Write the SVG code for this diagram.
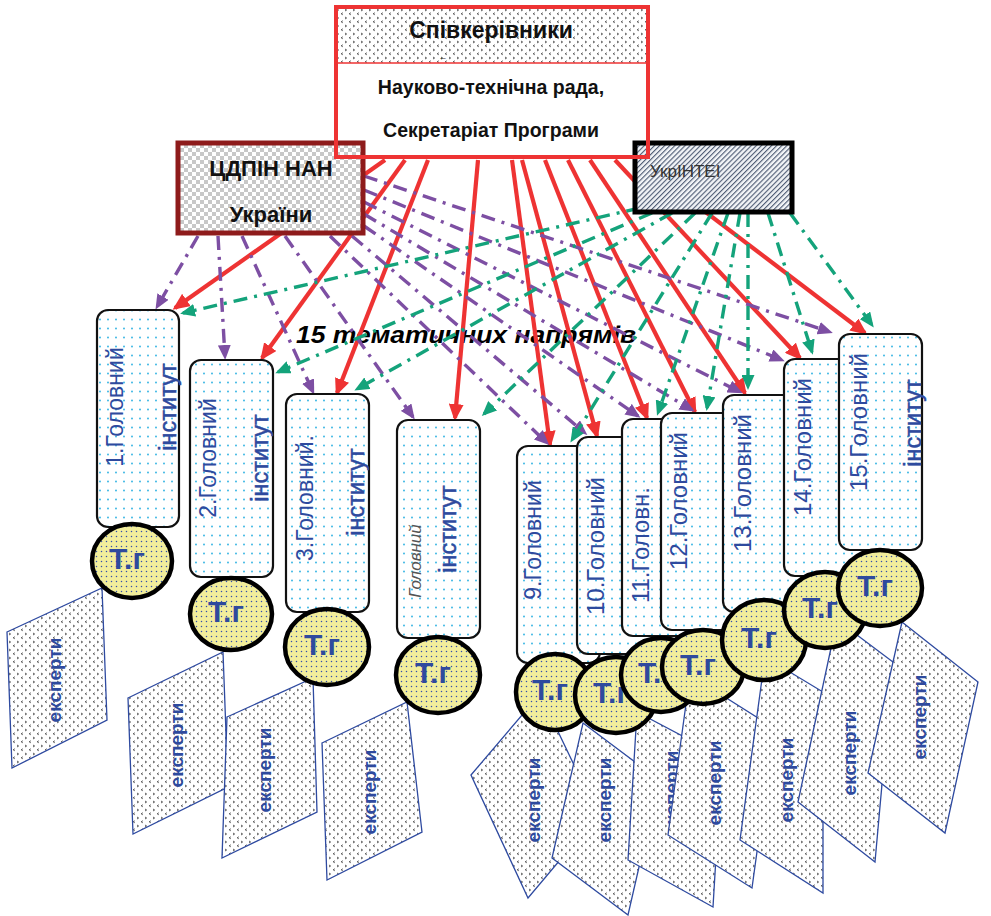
<svg xmlns="http://www.w3.org/2000/svg" width="991" height="916" viewBox="0 0 991 916">
<defs>
<pattern id="pDotC" width="8" height="9" patternUnits="userSpaceOnUse"><rect width="8" height="9" fill="#fff"/><circle cx="4" cy="4.5" r="0.9" fill="#2AB0E2"/></pattern>
<pattern id="pYel" width="5" height="5" patternUnits="userSpaceOnUse"><rect width="5" height="5" fill="#F2EE9C"/><circle cx="1.5" cy="1.5" r="0.75" fill="#3650A8"/></pattern>
<pattern id="pExp" width="8" height="8" patternUnits="userSpaceOnUse"><rect width="8" height="8" fill="#fff"/><path d="M1,1 L2.6,2 L1,3" fill="none" stroke="#111" stroke-width="0.7"/><path d="M6.8,4.8 L5.2,5.8 L6.8,6.8" fill="none" stroke="#111" stroke-width="0.7"/></pattern>
<pattern id="pChk" width="8" height="8" patternUnits="userSpaceOnUse"><rect width="8" height="8" fill="#fff"/><rect width="4" height="4" fill="#C8C8C8"/><rect x="4" y="4" width="4" height="4" fill="#C8C8C8"/></pattern>
<pattern id="pHatch" width="3.6" height="3.6" patternUnits="userSpaceOnUse" patternTransform="rotate(45)"><rect width="3.6" height="3.6" fill="#F2F4F7"/><line x1="0.6" y1="0" x2="0.6" y2="3.6" stroke="#3A4864" stroke-width="1"/></pattern>
<marker id="aR" markerUnits="userSpaceOnUse" markerWidth="17" markerHeight="15" refX="14" refY="7.5" orient="auto"><path d="M0,0 L17,7.5 L0,15 z" fill="#EE3333"/></marker>
<marker id="aP" markerUnits="userSpaceOnUse" markerWidth="15" markerHeight="13" refX="12" refY="6.5" orient="auto"><path d="M0,0 L15,6.5 L0,13 z" fill="#7D4FA3"/></marker>
<marker id="aG" markerUnits="userSpaceOnUse" markerWidth="15" markerHeight="13" refX="12" refY="6.5" orient="auto"><path d="M0,0 L15,6.5 L0,13 z" fill="#14A37B"/></marker>
<style>
.inst{fill:url(#pDotC);stroke:#111;stroke-width:2.2}
.it{font-family:"Liberation Sans",Arial,sans-serif;fill:#2E4A9E;text-anchor:middle}
.itb{font-family:"Liberation Sans",Arial,sans-serif;fill:#2E4A9E;stroke:#2E4A9E;stroke-width:0.5;font-size:23.5px;text-anchor:middle}
.tg{fill:url(#pYel);stroke:#000;stroke-width:4.5}
.tgt{font-family:"Liberation Sans",Arial,sans-serif;font-weight:bold;font-size:30px;fill:#2E4A9E;text-anchor:middle}
.exp{fill:url(#pExp);stroke:#2E4AA0;stroke-width:1.3}
.ext{font-family:"Liberation Sans",Arial,sans-serif;font-weight:bold;font-size:19px;fill:#2E4A9E;text-anchor:middle}
.red{stroke:#EE3333;stroke-width:4.2;fill:none;marker-end:url(#aR)}
.pur{stroke:#7D4FA3;stroke-width:3.4;fill:none;stroke-dasharray:14 7 3 7;marker-end:url(#aP)}
.grn{stroke:#14A37B;stroke-width:3.4;fill:none;stroke-dasharray:14 7 3 7;marker-end:url(#aG)}
.hd{font-family:"Liberation Sans",Arial,sans-serif;font-weight:bold;fill:#111;text-anchor:middle}
</style>
</defs>
<rect width="991" height="916" fill="#fff"/>

<text x="296" y="343" font-family="Liberation Sans, Arial, sans-serif" font-size="23" font-weight="bold" font-style="italic" fill="#000" textLength="340" lengthAdjust="spacingAndGlyphs">15 тематичних напрямів</text>

<g id="connectors">
<line class="red" x1="385" y1="160" x2="175" y2="308"/>
<line class="red" x1="405" y1="160" x2="262" y2="358"/>
<line class="red" x1="428" y1="160" x2="337" y2="393"/>
<line class="red" x1="478" y1="160" x2="455" y2="418"/>
<line class="red" x1="512" y1="160" x2="550" y2="445"/>
<line class="red" x1="522" y1="160" x2="597" y2="436"/>
<line class="red" x1="545" y1="160" x2="647" y2="418"/>
<line class="red" x1="568" y1="160" x2="695" y2="412"/>
<line class="red" x1="590" y1="160" x2="745" y2="393"/>
<line class="red" x1="615" y1="160" x2="800" y2="358"/>
<line class="red" x1="637" y1="160" x2="865" y2="333"/>
<line class="pur" x1="198" y1="236" x2="157" y2="307"/>
<line class="pur" x1="218" y1="236" x2="225" y2="357"/>
<line class="pur" x1="242" y1="236" x2="313" y2="392"/>
<line class="pur" x1="285" y1="236" x2="413" y2="417"/>
<line class="pur" x1="330" y1="236" x2="547" y2="443"/>
<line class="pur" x1="352" y1="236" x2="585" y2="433"/>
<line class="pur" x1="364" y1="226" x2="638" y2="416"/>
<line class="pur" x1="364" y1="214" x2="692" y2="410"/>
<line class="pur" x1="364" y1="202" x2="740" y2="392"/>
<line class="pur" x1="364" y1="190" x2="782" y2="360"/>
<line class="pur" x1="364" y1="176" x2="830" y2="332"/>
<line class="grn" x1="640" y1="208" x2="183" y2="313"/>
<line class="grn" x1="652" y1="213" x2="278" y2="372"/>
<line class="grn" x1="672" y1="213" x2="357" y2="389"/>
<line class="grn" x1="695" y1="213" x2="484" y2="414"/>
<line class="grn" x1="712" y1="213" x2="572" y2="440"/>
<line class="grn" x1="728" y1="213" x2="658" y2="413"/>
<line class="grn" x1="740" y1="213" x2="707" y2="408"/>
<line class="grn" x1="748" y1="213" x2="748" y2="387"/>
<line class="grn" x1="768" y1="213" x2="812" y2="352"/>
<line class="grn" x1="790" y1="213" x2="872" y2="325"/>
</g>

<g id="node-cdpin">
<rect x="178" y="143" width="185" height="90" fill="url(#pChk)" stroke="#8E1B1B" stroke-width="5"/>
<text class="hd" x="271" y="176" font-size="22">ЦДПІН НАН</text>
<text class="hd" x="271" y="222" font-size="22">України</text>
</g>

<g id="node-ukrintei">
<rect x="635" y="143" width="157" height="69" fill="url(#pHatch)" stroke="#000" stroke-width="5"/>
<text x="650" y="177" font-family="Liberation Sans, Arial, sans-serif" font-size="17" fill="#333">УкрІНТЕІ</text>
</g>

<g id="node-top">
<rect x="338" y="9" width="308" height="54" fill="url(#pExp)"/>
<line x1="336" y1="63" x2="648" y2="63" stroke="#EE3333" stroke-width="1.5"/>
<rect x="336" y="7" width="312" height="150" fill="none" stroke="#EE3333" stroke-width="4"/>
<text class="hd" x="491" y="38" font-size="23">Співкерівники</text>
<text x="443" y="60" font-family="Liberation Sans, Arial, sans-serif" font-size="9" fill="#333" text-anchor="middle">←</text>
<text class="hd" x="491" y="94" font-size="19.5">Науково-технічна рада,</text>
<text class="hd" x="491" y="137" font-size="19.5">Секретаріат Програми</text>
</g>

<g id="node-inst1"><rect class="inst" x="97" y="310" width="82" height="217" rx="11"/>
<text class="it" font-size="23" transform="translate(123,407) rotate(-90)">1.Головний</text>
<text class="itb" transform="translate(176,407) rotate(-90)">інститут</text></g>
<g id="node-inst2"><rect class="inst" x="190" y="360" width="83" height="217" rx="11"/>
<text class="it" font-size="23" transform="translate(216,458) rotate(-90)">2.Головний</text>
<text class="itb" transform="translate(268,458) rotate(-90)">інститут</text></g>
<g id="node-inst3"><rect class="inst" x="286" y="394" width="83" height="218" rx="11"/>
<text class="it" font-size="23" transform="translate(313,498) rotate(-90)">3.Головний.</text>
<text class="itb" transform="translate(364,492) rotate(-90)">інститут</text></g>
<g id="node-inst4"><rect class="inst" x="397" y="420" width="83" height="218" rx="11"/>
<text font-family="Liberation Sans, Arial, sans-serif" font-size="17" font-style="italic" fill="#555" text-anchor="middle" transform="translate(421,561) rotate(-90)">Головний</text>
<text class="itb" transform="translate(456,529) rotate(-90)">інститут</text></g>
<g id="node-inst9"><rect class="inst" x="517" y="446" width="83" height="217" rx="11"/>
<text class="it" font-size="23" transform="translate(541,540) rotate(-90)">9.Головний</text></g>
<g id="node-inst10"><rect class="inst" x="577" y="437" width="83" height="217" rx="11"/>
<text class="it" font-size="24" transform="translate(604,546) rotate(-90)">10.Головний</text></g>
<g id="node-inst11"><rect class="inst" x="622" y="419" width="83" height="217" rx="11"/>
<text class="it" font-size="24" transform="translate(649,545) rotate(-90)">11.Головн.</text></g>
<g id="node-inst12"><rect class="inst" x="661" y="413" width="83" height="217" rx="11"/>
<text class="it" font-size="24" transform="translate(687,501) rotate(-90)">12.Головний</text></g>
<g id="node-inst13"><rect class="inst" x="723" y="395" width="83" height="217" rx="11"/>
<text class="it" font-size="24" transform="translate(751,483) rotate(-90)">13.Головний</text></g>
<g id="node-inst14"><rect class="inst" x="784" y="359" width="83" height="217" rx="11"/>
<text class="it" font-size="24" transform="translate(811,447) rotate(-90)">14.Головний</text></g>
<g id="node-inst15"><rect class="inst" x="839" y="334" width="83" height="216" rx="11"/>
<text class="it" font-size="24" transform="translate(867,422) rotate(-90)">15.Головний</text>
<text class="itb" transform="translate(921,423) rotate(-90)">інститут</text></g>

<g id="node-exp1"><polygon class="exp" points="7,632 102,588 107,720 12,768"/><text class="ext" transform="translate(61,680) rotate(-90)">експерти</text></g>
<g id="node-exp2"><polygon class="exp" points="128,698 223,652 228,787 133,834"/><text class="ext" transform="translate(183,745) rotate(-90)">експерти</text></g>
<g id="node-exp3"><polygon class="exp" points="227,717 313,678 317,812 222,858"/><text class="ext" transform="translate(271,770) rotate(-90)">експерти</text></g>
<g id="node-exp4"><polygon class="exp" points="322,743 407,702 422,832 327,880"/><text class="ext" transform="translate(376,792) rotate(-90)">експерти</text></g>
<g id="node-exp9"><polygon class="exp" points="471,775 540,694 598,815 528,898"/><text class="ext" transform="translate(540,800) rotate(-90)">експерти</text></g>
<g id="node-exp10"><polygon class="exp" points="583,723 659,780 628,915 552,858"/><text class="ext" transform="translate(611,800) rotate(-90)">експерти</text></g>
<g id="node-exp11"><polygon class="exp" points="637,712 722,757 713,907 628,860"/><text class="ext" transform="translate(678,793) rotate(-90)">експерти</text></g>
<g id="node-exp12"><polygon class="exp" points="690,675 774,728 752,888 668,835"/><text class="ext" transform="translate(721,783) rotate(-90)">експерти</text></g>
<g id="node-exp13"><polygon class="exp" points="765,657 823,692 823,893 740,840"/><text class="ext" transform="translate(793,780) rotate(-90)">експерти</text></g>
<g id="node-exp14"><polygon class="exp" points="837,620 893,662 875,862 798,802"/><text class="ext" transform="translate(856,753) rotate(-90)">експерти</text></g>
<g id="node-exp15"><polygon class="exp" points="902,622 978,682 945,833 868,773"/><text class="ext" transform="translate(926,717) rotate(-90)">експерти</text></g>

<g id="node-tg1"><ellipse class="tg" cx="132" cy="561" rx="40" ry="37"/><text class="tgt" x="127" y="569">Т.г</text></g>
<g id="node-tg2"><ellipse class="tg" cx="231" cy="614" rx="41" ry="36"/><text class="tgt" x="226" y="622">Т.г</text></g>
<g id="node-tg3"><ellipse class="tg" cx="327" cy="647" rx="42" ry="38"/><text class="tgt" x="322" y="655">Т.г</text></g>
<g id="node-tg4"><ellipse class="tg" cx="438" cy="675" rx="42" ry="38"/><text class="tgt" x="433" y="683">Т.г</text></g>
<g id="node-tg9"><ellipse class="tg" cx="555" cy="692" rx="39" ry="38"/><text class="tgt" x="550" y="700">Т.г</text></g>
<g id="node-tg10"><ellipse class="tg" cx="616" cy="695" rx="41" ry="38"/><text class="tgt" x="611" y="703">Т.г</text></g>
<g id="node-tg11"><ellipse class="tg" cx="661" cy="675" rx="40" ry="37"/><text class="tgt" x="656" y="683">Т.г</text></g>
<g id="node-tg12"><ellipse class="tg" cx="703" cy="667" rx="41" ry="37"/><text class="tgt" x="698" y="675">Т.г</text></g>
<g id="node-tg13"><ellipse class="tg" cx="764" cy="640" rx="42" ry="40"/><text class="tgt" x="759" y="648">Т.г</text></g>
<g id="node-tg14"><ellipse class="tg" cx="825" cy="610" rx="41" ry="38"/><text class="tgt" x="820" y="618">Т.г</text></g>
<g id="node-tg15"><ellipse class="tg" cx="880" cy="588" rx="42" ry="38"/><text class="tgt" x="875" y="596">Т.г</text></g>
</svg>
